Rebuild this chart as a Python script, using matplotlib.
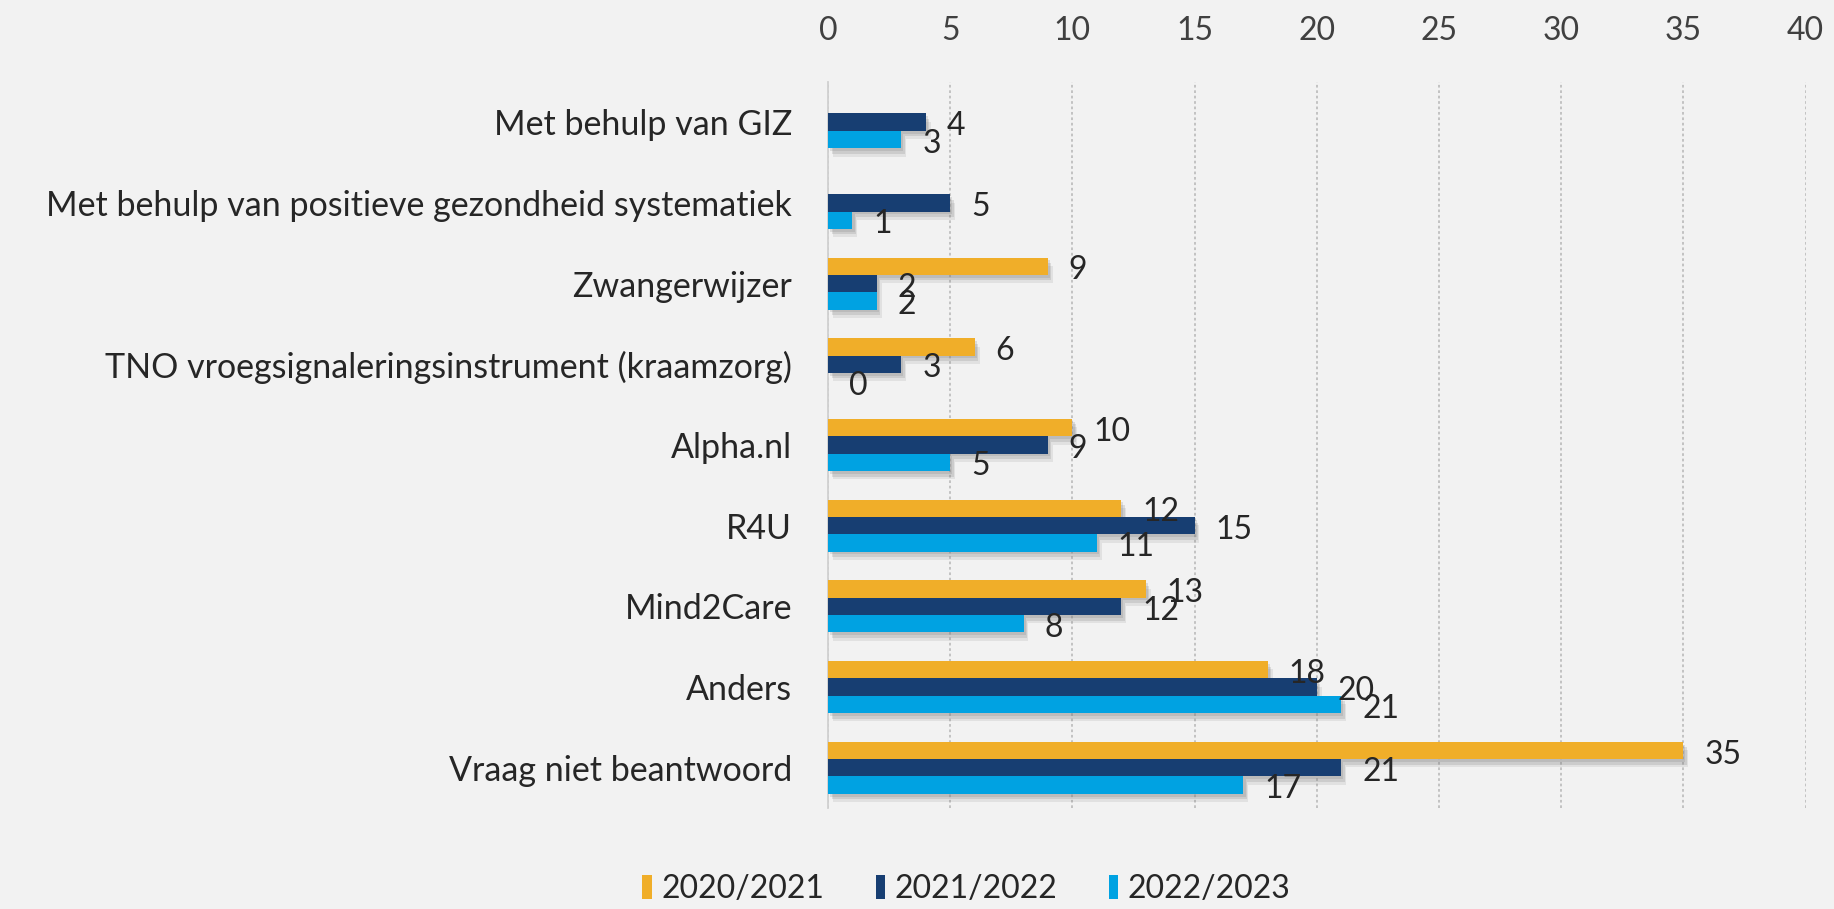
import numpy as np
import matplotlib
matplotlib.use("Agg")
import matplotlib.pyplot as plt
import matplotlib.patheffects as pe
from matplotlib.patches import Patch

# ---- data ----
categories = [
    "Met behulp van GIZ",
    "Met behulp van positieve gezondheid systematiek",
    "Zwangerwijzer",
    "TNO vroegsignaleringsinstrument (kraamzorg)",
    "Alpha.nl",
    "R4U",
    "Mind2Care",
    "Anders",
    "Vraag niet beantwoord",
]
series_names = ["2020/2021", "2021/2022", "2022/2023"]
v_2020 = [np.nan, np.nan, 9, 6, 10, 12, 13, 18, 35]
v_2021 = [4, 5, 2, 3, 9, 15, 12, 20, 21]
v_2022 = [3, 1, 2, 0, 5, 11, 8, 21, 17]
x_ticks = [0, 5, 10, 15, 20, 25, 30, 35, 40]

colors = ["#F0AE29", "#173E72", "#00A2E2"]
bg = "#F2F2F2"
txt = "#262626"

plt.rcParams["font.family"] = ["Lato", "DejaVu Sans"]

fig = plt.figure(figsize=(18.34, 9.09), dpi=100, facecolor=bg)
ax = fig.add_axes([0.4515, 0.111, 0.533, 0.799])
ax.set_facecolor(bg)

y = np.arange(len(categories))
h = 0.215
# soft drop shadow, a few stacked offsets to fake the blur
shadow = [pe.SimplePatchShadow(offset=(1.5, -2), shadow_rgbFace="#7a7a7a", alpha=0.2),
          pe.SimplePatchShadow(offset=(2.5, -4), shadow_rgbFace="#7a7a7a", alpha=0.2),
          pe.SimplePatchShadow(offset=(3.5, -6), shadow_rgbFace="#7a7a7a", alpha=0.14),
          pe.Normal()]

for i, (name, vals) in enumerate(zip(series_names, [v_2020, v_2021, v_2022])):
    vals = np.array(vals, dtype=float)
    pos = y + (i - 1) * h
    ok = ~np.isnan(vals)
    ax.barh(pos[ok], vals[ok], height=h, color=colors[i],
            zorder=3, path_effects=shadow)
    for p, v in zip(pos[ok], vals[ok]):
        ax.annotate(f"{v:.0f}", (v, p), xytext=(15, -3), textcoords="offset points",
                    ha="left", va="center", fontsize=23, color=txt, zorder=4)

ax.set_xlim(0, 40)
ax.set_ylim(len(categories) - 0.5, -0.5)
ax.set_xticks(x_ticks)
ax.xaxis.tick_top()
ax.tick_params(axis="x", length=0, pad=26, labelsize=23, labelcolor="#404040")
ax.set_yticks(y)
ax.set_yticklabels(categories)
ax.tick_params(axis="y", length=0, pad=26, labelsize=24.5, labelcolor=txt)

ax.grid(axis="x", color="#BFBFBF", linestyle=(0, (1.5, 1.5)), linewidth=1.3, zorder=0)
ax.set_axisbelow(True)
for s in ["top", "right", "bottom"]:
    ax.spines[s].set_visible(False)
ax.spines["left"].set_color("#D0D0D0")
ax.spines["left"].set_linewidth(1.3)

handles = [Patch(facecolor=c, label=n) for c, n in zip(colors, series_names)]
fig.legend(handles=handles, loc="center", bbox_to_anchor=(0.527, 0.022), ncol=3,
           frameon=False, fontsize=23, handlelength=0.3, handleheight=0.75,
           handletextpad=0.3, columnspacing=1.6, labelcolor=txt)

fig.savefig("out.png", dpi=100, facecolor=bg)
